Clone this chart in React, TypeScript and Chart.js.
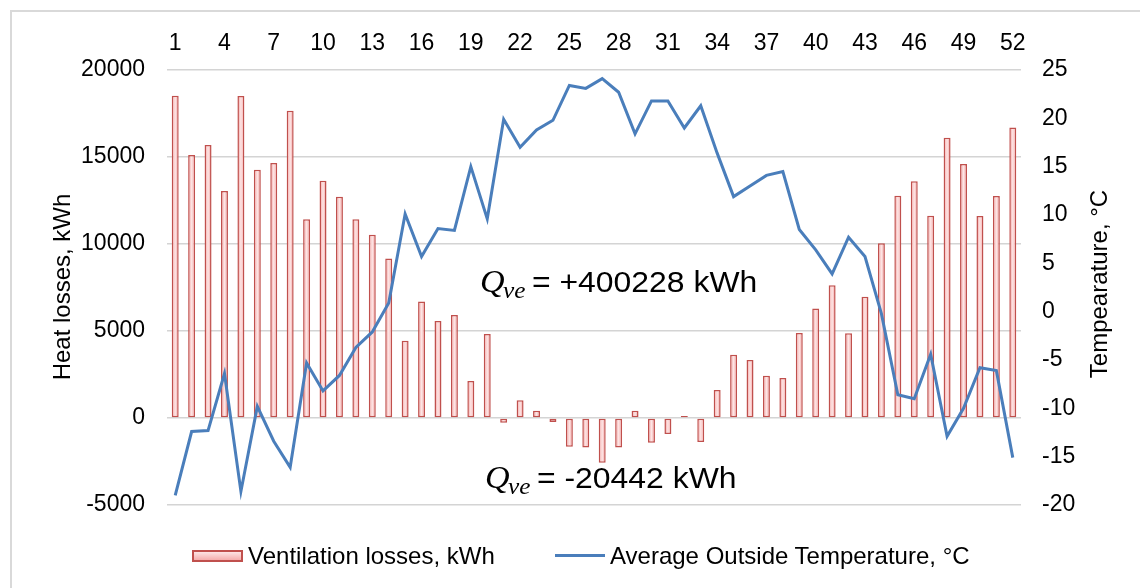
import React, { useEffect, useRef } from 'react';
import { Chart, registerables } from 'chart.js';

Chart.register(...registerables);

const weeks = [
  '1', '2', '3', '4', '5', '6', '7', '8', '9', '10', '11', '12', '13',
  '14', '15', '16', '17', '18', '19', '20', '21', '22', '23', '24', '25', '26',
  '27', '28', '29', '30', '31', '32', '33', '34', '35', '36', '37', '38', '39',
  '40', '41', '42', '43', '44', '45', '46', '47', '48', '49', '50', '51', '52',
];

const ventilationLosses = [
  18520, 15110, 15690, 13050, 18500, 14270, 14650, 17660, 11420, 13640, 12720, 11420, 10530,
  9160, 4440, 6690, 5580, 5920, 2130, 4830, -270, 1020, 420, -230, -1650, -1690,
  -2570, -1700, 420, -1420, -920, 110, -1380, 1610, 3630, 3330, 2430, 2300, 4890,
  6300, 7630, 4870, 6970, 10040, 12780, 13600, 11630, 16110, 14600, 11610, 12760, 16690,
];

const outsideTemperature = [
  -19.0, -12.4, -12.3, -6.4, -18.6, -9.8, -13.4, -16.1, -5.3, -8.2, -6.6, -3.7, -2.1,
  0.9, 10.1, 5.7, 8.6, 8.4, 15.0, 9.6, 19.9, 17.0, 18.8, 19.8, 23.4, 23.1,
  24.1, 22.7, 18.4, 21.8, 21.8, 19.0, 21.3, 16.4, 11.9, 13.0, 14.1, 14.5, 8.5,
  6.4, 3.9, 7.7, 5.7, -0.2, -8.6, -9.0, -4.4, -12.9, -10.0, -5.8, -6.1, -15.1,
];

const annotations = [
  { value: '= +400228 kWh', qX: 480, eqX: 532, baseline: 292 },
  { value: '= -20442 kWh', qX: 485, eqX: 537, baseline: 488 },
];

const SANS = '"Liberation Sans", Arial, sans-serif';
const SERIF = '"Liberation Serif", "DejaVu Serif", serif';

const textPlugin = {
  id: 'extraTexts',
  afterDraw(chart: any) {
    const ctx = chart.ctx as CanvasRenderingContext2D;
    ctx.save();
    ctx.fillStyle = '#000';
    ctx.font = `24px ${SANS}`;
    ctx.textAlign = 'center';
    ctx.textBaseline = 'middle';
    ctx.save();
    ctx.translate(63, 287);
    ctx.rotate(-Math.PI / 2);
    ctx.fillText('Heat losses, kWh', 0, 0);
    ctx.restore();
    ctx.save();
    ctx.translate(1100, 284);
    ctx.rotate(-Math.PI / 2);
    ctx.fillText('Tempearature, °C', 0, 0);
    ctx.restore();

    ctx.textAlign = 'left';
    ctx.textBaseline = 'alphabetic';
    for (const a of annotations) {
      ctx.save();
      ctx.translate(a.qX, a.baseline);
      ctx.scale(1.1, 1);
      ctx.font = `italic 31px ${SERIF}`;
      ctx.fillText('Q', 0, 0);
      ctx.font = `italic 23px ${SERIF}`;
      ctx.fillText('ve', 23 / 1.1, 6);
      ctx.font = `29px ${SANS}`;
      ctx.fillText(a.value, (a.eqX - a.qX) / 1.1, 0);
      ctx.restore();
    }
    ctx.restore();
  },
};

export default function App() {
  const canvasRef = useRef<HTMLCanvasElement | null>(null);

  useEffect(() => {
    if (!canvasRef.current) return;
    const barFill = (c: any) => {
      const chart = c.chart;
      const xs = chart.scales && chart.scales.x;
      if (!chart.chartArea || !xs || c.dataIndex === undefined) return '#f6b3b2';
      const xc = xs.getPixelForValue(c.dataIndex);
      const g = chart.ctx.createLinearGradient(xc - 3.5, 0, xc + 3.5, 0);
      g.addColorStop(0, '#f29a99');
      g.addColorStop(0.5, '#fde6e6');
      g.addColorStop(1, '#f29a99');
      return g;
    };
    const chart = new Chart(canvasRef.current, {
      type: 'bar',
      data: {
        labels: weeks,
        datasets: [
          {
            type: 'line',
            label: 'Average Outside Temperature, °C',
            data: outsideTemperature,
            yAxisID: 'y1',
            borderColor: '#4a7ebb',
            borderWidth: 3,
            pointRadius: 0,
            tension: 0,
            order: 0,
          } as any,
          {
            type: 'bar',
            label: 'Ventilation losses, kWh',
            data: ventilationLosses,
            yAxisID: 'y',
            backgroundColor: barFill,
            borderColor: '#c0504d',
            borderWidth: 1.5,
            borderSkipped: false,
            categoryPercentage: 0.8,
            barPercentage: 0.53,
            order: 1,
          } as any,
        ],
      },
      options: {
        responsive: false,
        animation: false,
        layout: { padding: { left: 0, right: 0, top: 0, bottom: 83 } },
        plugins: {
          legend: { display: false },
          tooltip: { enabled: false },
        },
        scales: {
          x: {
            position: 'top',
            offset: true,
            grid: { display: false, drawTicks: false },
            border: { display: false },
            ticks: {
              autoSkip: false,
              maxRotation: 0,
              minRotation: 0,
              padding: 13,
              color: '#000',
              font: { family: SANS, size: 23 },
              callback: (_v: any, i: number) => (i % 3 === 0 ? weeks[i] : ''),
            },
            afterFit: (s: any) => {
              s.height = 70;
            },
          },
          y: {
            position: 'left',
            min: -5000,
            max: 20000,
            grid: { color: '#d4d4d4', lineWidth: 1.5, drawTicks: false },
            border: { display: false },
            ticks: {
              stepSize: 5000,
              padding: 22,
              color: '#000',
              font: { family: SANS, size: 23 },
              callback: (v: any) => String(v),
            },
            afterFit: (s: any) => {
              s.width = 167;
            },
          },
          y1: {
            position: 'right',
            min: -20,
            max: 25,
            grid: { display: false, drawTicks: false },
            border: { display: false },
            ticks: {
              stepSize: 5,
              padding: 21,
              color: '#000',
              font: { family: SANS, size: 23 },
              callback: (v: any) => String(v),
            },
            afterFit: (s: any) => {
              s.width = 119;
            },
          },
        },
      } as any,
      plugins: [textPlugin],
    });
    return () => chart.destroy();
  }, []);

  return (
    <div
      style={{
        position: 'fixed',
        left: 0,
        top: 0,
        width: 1140,
        height: 588,
        overflow: 'hidden',
        background: '#fff',
        fontFamily: SANS,
      }}
    >
      <div
        style={{
          position: 'absolute',
          left: 10,
          top: 10,
          width: 1300,
          height: 800,
          border: '2px solid #d9d9d9',
          boxSizing: 'border-box',
        }}
      />
      <canvas
        ref={canvasRef}
        width={1140}
        height={588}
        style={{ position: 'absolute', left: 0, top: 0, width: 1140, height: 588 }}
      />
      <div
        style={{
          position: 'absolute',
          left: 192,
          top: 550,
          width: 51,
          height: 12,
          boxSizing: 'border-box',
          border: '2px solid #c0504d',
          background: 'linear-gradient(#fde4e4, #f5adac)',
        }}
      />
      <div
        style={{
          position: 'absolute',
          left: 248,
          top: 541,
          fontSize: 24,
          lineHeight: '30px',
          color: '#000',
          whiteSpace: 'nowrap',
        }}
      >
        Ventilation losses, kWh
      </div>
      <div
        style={{
          position: 'absolute',
          left: 555,
          top: 554,
          width: 50,
          height: 3,
          background: '#4a7ebb',
        }}
      />
      <div
        style={{
          position: 'absolute',
          left: 610,
          top: 541,
          fontSize: 24,
          lineHeight: '30px',
          color: '#000',
          whiteSpace: 'nowrap',
        }}
      >
        Average Outside Temperature, °C
      </div>
    </div>
  );
}
